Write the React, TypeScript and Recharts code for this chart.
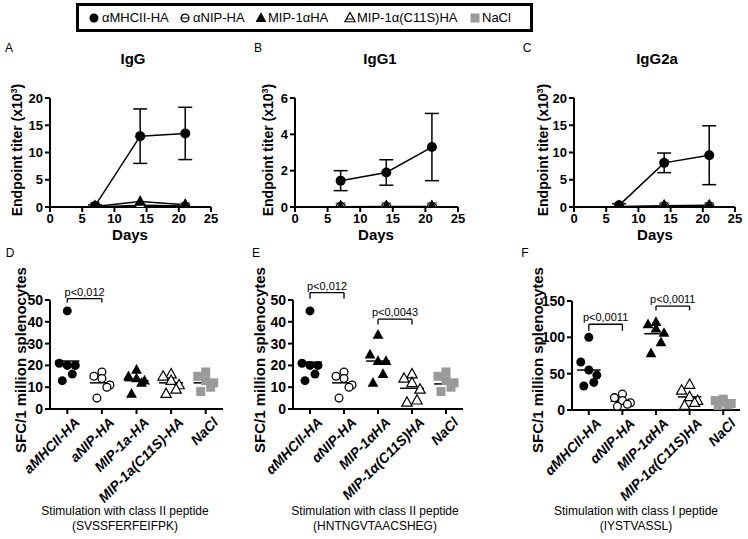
import React from 'react';
import {
  LineChart,
  Line,
  XAxis,
  YAxis,
  ErrorBar,
  ScatterChart,
  Scatter,
  ReferenceLine,
} from 'recharts';

const FONT = 'Arial, "Liberation Sans", Helvetica, sans-serif';

// legend / series
const seriesNames = ['αMHCII-HA', 'αNIP-HA', 'MIP-1αHA', 'MIP-1α(C11S)HA', 'NaCl'];

// top row: endpoint titers (x10^3) per day
const days = [7, 14, 21];
const dayTicks = [0, 5, 10, 15, 20, 25];

const iggMhc = [0.2, 13.0, 13.5];
const iggMhcErr = [0.2, 5.0, 4.8];
const iggNip = [0.0, 0.1, 0.1];
const iggMip = [0.1, 1.0, 0.4];
const iggC11s = [0.0, 0.3, 0.2];
const iggNacl = [0.0, 0.0, 0.0];

const igg1Mhc = [1.45, 1.9, 3.3];
const igg1MhcErr = [0.55, 0.7, 1.85];
const igg1Nip = [0.0, 0.0, 0.0];
const igg1Mip = [0.02, 0.03, 0.03];
const igg1C11s = [0.0, 0.0, 0.0];
const igg1Nacl = [0.0, 0.0, 0.0];

const igg2aMhc = [0.3, 8.1, 9.5];
const igg2aMhcErr = [0.3, 1.8, 5.4];
const igg2aNip = [0.0, 0.1, 0.1];
const igg2aMip = [0.1, 0.25, 0.3];
const igg2aC11s = [0.0, 0.1, 0.1];
const igg2aNacl = [0.0, 0.0, 0.0];

// bottom row: SFC / 1 million splenocytes
const dCats = ['aMHCII-HA', 'aNIP-HA', 'MIP-1a-HA', 'MIP-1a(C11S)-HA', 'NaCl'];
const efCats = ['αMHCII-HA', 'αNIP-HA', 'MIP-1αHA', 'MIP-1α(C11S)HA', 'NaCl'];

const dMhc = [45, 21, 20, 20, 16, 13];
const dNip = [17, 15, 14, 11, 10, 5];
const dMip = [18, 15, 14, 13, 12, 7];
const dC11s = [16, 15, 13, 11, 9, 7];
const dNacl = [17, 15, 13, 12, 10, 8];
const dMedians = [22, 12, 13, 12, 12];

const eMhc = [45, 21, 20, 20, 16, 13];
const eNip = [17, 15, 14, 11, 10, 5];
const eMip = [34, 25, 22, 22, 16, 12];
const eC11s = [16, 14, 12, 9, 4, 3];
const eNacl = [17, 15, 13, 12, 10, 8];
const eMedians = [21.5, 12, 22, 9.5, 11.5];

const fMhc = [100, 66, 55, 48, 38, 33];
const fNip = [22, 17, 13, 10, 8, 5];
const fMip = [121, 118, 112, 106, 93, 78];
const fC11s = [35, 27, 18, 13, 10, 6];
const fNacl = [15, 13, 11, 9, 7, 5];
const fMedians = [55, 12, 105, 18, 11];

const dBrackets = [{ from: 1, to: 2, y: 50.6, leg: 1.8, text: 'p<0,012' }];
const eBrackets = [
  { from: 1, to: 2, y: 53.4, leg: 2.8, text: 'p<0,012' },
  { from: 3, to: 4, y: 41.2, leg: 2.4, text: 'p<0,0043' },
];
const fBrackets = [
  { from: 1, to: 2, y: 118, leg: 9, text: 'p<0,0011' },
  { from: 3, to: 4, y: 143, leg: 6, text: 'p<0,0011' },
];

type Kind = 'fc' | 'oc' | 'ft' | 'ot' | 'sq';
const kinds: Kind[] = ['fc', 'oc', 'ft', 'ot', 'sq'];

const triPts = (cx: number, cy: number, w: number) => {
  const h = w * 0.9;
  return `${cx},${cy - h * 0.6} ${cx - w / 2},${cy + h * 0.4} ${cx + w / 2},${cy + h * 0.4}`;
};

function Marker({ kind, cx, cy, s = 5 }: { kind: Kind; cx?: number; cy?: number; s?: number }) {
  if (cx == null || cy == null || isNaN(cx) || isNaN(cy)) return null;
  switch (kind) {
    case 'fc':
      return <circle cx={cx} cy={cy} r={s} fill="#000" />;
    case 'oc':
      return <circle cx={cx} cy={cy} r={s - 0.6} fill="#fff" stroke="#000" strokeWidth={1.3} />;
    case 'ft':
      return <polygon points={triPts(cx, cy, s * 2.4)} fill="#000" />;
    case 'ot':
      return <polygon points={triPts(cx, cy, s * 2.3)} fill="#fff" stroke="#000" strokeWidth={1.2} />;
    default:
      return <rect x={cx - s} y={cy - s} width={s * 2} height={s * 2} fill="#9a9a9a" />;
  }
}

const tickStyle = { fontFamily: FONT, fontSize: 13, fontWeight: 'bold', fill: '#000' };

// ---------- top row ----------
interface TiterProps {
  left: number;
  width: number;
  marginLeft: number;
  marginRight: number;
  yMax: number;
  yTicks: number[];
  mhc: number[];
  mhcErr: number[];
  nip: number[];
  mip: number[];
  c11s: number[];
  nacl: number[];
}

function TiterPanel(p: TiterProps) {
  const data = days.map((d, i) => ({
    day: d,
    mhc: p.mhc[i],
    mhcErr: p.mhcErr[i],
    nip: p.nip[i],
    mip: p.mip[i],
    c11s: p.c11s[i],
    nacl: p.nacl[i],
  }));
  const order: [string, Kind][] = [
    ['nacl', 'sq'],
    ['c11s', 'ot'],
    ['nip', 'oc'],
    ['mip', 'ft'],
  ];
  return (
    <div style={{ position: 'absolute', left: p.left, top: 60 }}>
      <LineChart
        width={p.width}
        height={185}
        data={data}
        margin={{ top: 38, right: p.marginRight, bottom: 13, left: p.marginLeft }}
      >
        <XAxis
          type="number"
          dataKey="day"
          domain={[0, 25]}
          ticks={dayTicks}
          height={25}
          stroke="#000"
          strokeWidth={2}
          tickSize={5}
          tick={tickStyle}
        />
        <YAxis
          type="number"
          domain={[0, p.yMax]}
          ticks={p.yTicks}
          width={30}
          stroke="#000"
          strokeWidth={2}
          tickSize={5}
          tick={tickStyle}
          allowDataOverflow
        />
        {order.map(([key, kind]) => (
          <Line
            key={key}
            dataKey={key}
            stroke="#000"
            strokeWidth={1.5}
            isAnimationActive={false}
            activeDot={false}
            dot={(d: any) => <Marker key={`${key}-${d.index}`} kind={kind} cx={d.cx} cy={d.cy} />}
          />
        ))}
        <Line
          dataKey="mhc"
          stroke="#000"
          strokeWidth={1.5}
          isAnimationActive={false}
          activeDot={false}
          dot={(d: any) => <Marker key={`mhc-${d.index}`} kind="fc" cx={d.cx} cy={d.cy} />}
        >
          <ErrorBar dataKey="mhcErr" width={7} stroke="#000" strokeWidth={1.5} direction="y" />
        </Line>
      </LineChart>
    </div>
  );
}

// ---------- bottom row ----------
const JITTER = [0, -8, 0, 8, 5, -5];

const makeTick = (labels: string[]) => (props: any) => {
  const { x, y, payload } = props;
  const label = labels[Math.round(payload.value) - 1] ?? '';
  return (
    <g transform={`translate(${x + 7},${y + 1})`}>
      <text
        x={0}
        y={0}
        dy={9}
        textAnchor="end"
        transform="rotate(-45)"
        fontFamily={FONT}
        fontSize={14}
        fontWeight="bold"
        fontStyle="italic"
        fill="#000"
      >
        {label}
      </text>
    </g>
  );
};

interface Bracket {
  from: number;
  to: number;
  y: number;
  leg: number;
  text: string;
}

interface SpotProps {
  left: number;
  width: number;
  marginLeft: number;
  yAxisWidth: number;
  marginRight: number;
  marginTop: number;
  bottomSpace: number;
  yMax: number;
  yTicks: number[];
  groups: number[][];
  medians: number[];
  labels: string[];
  brackets: Bracket[];
}

function SpotPanel(p: SpotProps) {
  return (
    <div style={{ position: 'absolute', left: p.left, top: 240 }}>
      <ScatterChart
        width={p.width}
        height={299}
        margin={{ top: p.marginTop, right: p.marginRight, bottom: p.bottomSpace - 110, left: p.marginLeft }}
      >
        <XAxis
          type="number"
          dataKey="x"
          domain={[0.5, 5.5]}
          ticks={[1, 2, 3, 4, 5]}
          height={110}
          stroke="#000"
          strokeWidth={2}
          tickSize={5}
          interval={0}
          tick={makeTick(p.labels)}
        />
        <YAxis
          type="number"
          dataKey="y"
          domain={[0, p.yMax]}
          ticks={p.yTicks}
          width={p.yAxisWidth}
          stroke="#000"
          strokeWidth={2}
          tickSize={5}
          tick={{ ...tickStyle, fontSize: 14 }}
          allowDataOverflow
        />
        {p.groups.map((vals, g) => (
          <Scatter
            key={g}
            data={vals.map((v, i) => ({ x: g + 1, y: v, i }))}
            isAnimationActive={false}
            shape={(s: any) => (
              <Marker kind={kinds[g]} cx={s.cx + JITTER[s.payload.i % JITTER.length]} cy={s.cy} s={4.5} />
            )}
          />
        ))}
        {p.medians.map((m, g) => (
          <ReferenceLine
            key={`m${g}`}
            segment={[
              { x: g + 0.65, y: m },
              { x: g + 1.35, y: m },
            ]}
            stroke="#000"
            strokeWidth={1.5}
            ifOverflow="visible"
          />
        ))}
        {p.brackets.map((b, k) => (
          <React.Fragment key={`b${k}`}>
            <ReferenceLine
              segment={[
                { x: b.from, y: b.y },
                { x: b.to, y: b.y },
              ]}
              stroke="#000"
              strokeWidth={1.3}
              ifOverflow="visible"
              label={{ value: b.text, position: 'top', offset: 3, fontSize: 11, fill: '#000', fontFamily: FONT }}
            />
            <ReferenceLine
              segment={[
                { x: b.from, y: b.y },
                { x: b.from, y: b.y - b.leg },
              ]}
              stroke="#000"
              strokeWidth={1.3}
              ifOverflow="visible"
            />
            <ReferenceLine
              segment={[
                { x: b.to, y: b.y },
                { x: b.to, y: b.y - b.leg },
              ]}
              stroke="#000"
              strokeWidth={1.3}
              ifOverflow="visible"
            />
          </React.Fragment>
        ))}
      </ScatterChart>
    </div>
  );
}

// ---------- text helpers ----------
const Txt = ({ x, y, children, style }: { x: number; y: number; children: React.ReactNode; style?: React.CSSProperties }) => (
  <div
    style={{
      position: 'absolute',
      left: x,
      top: y,
      transform: 'translate(-50%, -50%)',
      whiteSpace: 'nowrap',
      fontFamily: FONT,
      lineHeight: 1,
      ...style,
    }}
  >
    {children}
  </div>
);

const VTxt = ({ x, y, size = 14, children }: { x: number; y: number; size?: number; children: React.ReactNode }) => (
  <div
    style={{
      position: 'absolute',
      left: x,
      top: y,
      transform: 'translate(-50%, -50%) rotate(-90deg)',
      whiteSpace: 'nowrap',
      fontFamily: FONT,
      fontWeight: 'bold',
      fontSize: size,
      lineHeight: 1,
    }}
  >
    {children}
  </div>
);

const LegendIcon = ({ kind }: { kind: Kind }) => (
  <svg width={12} height={12} style={{ display: 'block' }}>
    <Marker kind={kind} cx={6} cy={6} s={4.5} />
    {(kind === 'oc' || kind === 'ot') && (
      <line x1={2} x2={10} y1={kind === 'oc' ? 6 : 7} y2={kind === 'oc' ? 6 : 7} stroke="#000" strokeWidth={1} />
    )}
  </svg>
);

const legendIcons = [9, 100, 176, 265, 390];
const legendTexts = [23, 114, 189, 278, 403];

export default function App() {
  const titer = 'Endpoint titer (x10';
  return (
    <div
      style={{
        position: 'absolute',
        left: 0,
        top: 0,
        width: 748,
        height: 539,
        background: '#fff',
        fontFamily: FONT,
        overflow: 'hidden',
      }}
    >
      {/* legend */}
      <div
        style={{
          position: 'absolute',
          left: 76,
          top: 3,
          width: 457,
          height: 29,
          boxSizing: 'border-box',
          border: '3px solid #000',
        }}
      >
        {seriesNames.map((n, i) => (
          <React.Fragment key={n}>
            <div style={{ position: 'absolute', left: legendIcons[i], top: 6 }}>
              <LegendIcon kind={kinds[i]} />
            </div>
            <div style={{ position: 'absolute', left: legendTexts[i], top: 4, fontSize: 13, lineHeight: '15px', whiteSpace: 'nowrap' }}>
              {n}
            </div>
          </React.Fragment>
        ))}
      </div>

      {/* top row */}
      <TiterPanel left={0} width={230} marginLeft={20} marginRight={19} yMax={20} yTicks={[0, 5, 10, 15, 20]}
        mhc={iggMhc} mhcErr={iggMhcErr} nip={iggNip} mip={iggMip} c11s={iggC11s} nacl={iggNacl} />
      <TiterPanel left={250} width={230} marginLeft={15} marginRight={22} yMax={6} yTicks={[0, 2, 4, 6]}
        mhc={igg1Mhc} mhcErr={igg1MhcErr} nip={igg1Nip} mip={igg1Mip} c11s={igg1C11s} nacl={igg1Nacl} />
      <TiterPanel left={520} width={228} marginLeft={24} marginRight={13} yMax={20} yTicks={[0, 5, 10, 15, 20]}
        mhc={igg2aMhc} mhcErr={igg2aMhcErr} nip={igg2aNip} mip={igg2aMip} c11s={igg2aC11s} nacl={igg2aNacl} />

      <Txt x={9} y={48} style={{ fontSize: 12 }}>A</Txt>
      <Txt x={258} y={48} style={{ fontSize: 12 }}>B</Txt>
      <Txt x={527} y={48} style={{ fontSize: 12 }}>C</Txt>
      <Txt x={133} y={58} style={{ fontSize: 15, fontWeight: 'bold' }}>IgG</Txt>
      <Txt x={380} y={58} style={{ fontSize: 15, fontWeight: 'bold' }}>IgG1</Txt>
      <Txt x={657} y={58} style={{ fontSize: 15, fontWeight: 'bold' }}>IgG2a</Txt>
      <Txt x={130} y={234} style={{ fontSize: 15, fontWeight: 'bold' }}>Days</Txt>
      <Txt x={376} y={234} style={{ fontSize: 15, fontWeight: 'bold' }}>Days</Txt>
      <Txt x={655} y={234} style={{ fontSize: 15, fontWeight: 'bold' }}>Days</Txt>
      <VTxt x={17} y={150}>{titer}<sup style={{ fontSize: 9 }}>3</sup>)</VTxt>
      <VTxt x={268} y={150}>{titer}<sup style={{ fontSize: 9 }}>3</sup>)</VTxt>
      <VTxt x={543} y={150}>{titer}<sup style={{ fontSize: 9 }}>3</sup>)</VTxt>

      {/* bottom row */}
      <SpotPanel left={0} width={240} marginLeft={15} yAxisWidth={35} marginRight={17} marginTop={60} bottomSpace={130}
        yMax={50} yTicks={[0, 10, 20, 30, 40, 50]} groups={[dMhc, dNip, dMip, dC11s, dNacl]} medians={dMedians}
        labels={dCats} brackets={dBrackets} />
      <SpotPanel left={250} width={230} marginLeft={8} yAxisWidth={35} marginRight={17} marginTop={60} bottomSpace={130}
        yMax={50} yTicks={[0, 10, 20, 30, 40, 50]} groups={[eMhc, eNip, eMip, eC11s, eNacl]} medians={eMedians}
        labels={efCats} brackets={eBrackets} />
      <SpotPanel left={520} width={228} marginLeft={12} yAxisWidth={40} marginRight={8} marginTop={61} bottomSpace={129}
        yMax={150} yTicks={[0, 50, 100, 150]} groups={[fMhc, fNip, fMip, fC11s, fNacl]} medians={fMedians}
        labels={efCats} brackets={fBrackets} />

      <Txt x={10} y={253} style={{ fontSize: 12 }}>D</Txt>
      <Txt x={256} y={253} style={{ fontSize: 12 }}>E</Txt>
      <Txt x={525} y={253} style={{ fontSize: 12 }}>F</Txt>
      <VTxt x={20} y={360} size={15}>SFC/1 million splenocytes</VTxt>
      <VTxt x={259} y={360} size={15}>SFC/1 million splenocytes</VTxt>
      <VTxt x={537} y={360} size={15}>SFC/1 million splenocytes</VTxt>

      <Txt x={125} y={511} style={{ fontSize: 12 }}>Stimulation with class II peptide</Txt>
      <Txt x={125} y={526} style={{ fontSize: 12 }}>(SVSSFERFEIFPK)</Txt>
      <Txt x={375} y={511} style={{ fontSize: 12 }}>Stimulation with class II peptide</Txt>
      <Txt x={375} y={526} style={{ fontSize: 12 }}>(HNTNGVTAACSHEG)</Txt>
      <Txt x={636} y={511} style={{ fontSize: 12 }}>Stimulation with class I peptide</Txt>
      <Txt x={636} y={526} style={{ fontSize: 12 }}>(IYSTVASSL)</Txt>
    </div>
  );
}
